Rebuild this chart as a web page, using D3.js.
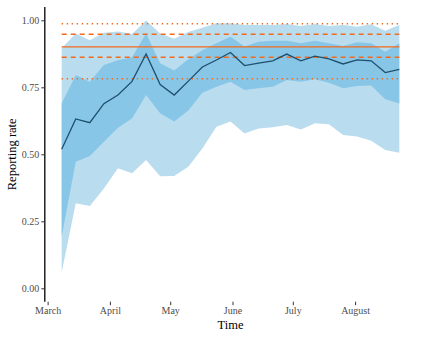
<!DOCTYPE html>
<html>
<head>
<meta charset="utf-8">
<script src="https://cdn.jsdelivr.net/npm/d3@7"></script>
<style>
  html, body { margin: 0; padding: 0; background: #fff; }
  svg { display: block; }
</style>
</head>
<body>
<div class="grafic"></div>
<script>
// weekly estimates of the reporting rate
const dates = ["2020-03-08","2020-03-15","2020-03-22","2020-03-29","2020-04-05","2020-04-12",
  "2020-04-19","2020-04-26","2020-05-03","2020-05-10","2020-05-17","2020-05-24","2020-05-31",
  "2020-06-07","2020-06-14","2020-06-21","2020-06-28","2020-07-05","2020-07-12","2020-07-19",
  "2020-07-26","2020-08-02","2020-08-09","2020-08-16","2020-08-23"];
const median = [0.519,0.632,0.618,0.689,0.721,0.772,0.874,0.760,0.721,0.773,0.826,0.852,0.880,
  0.831,0.840,0.849,0.874,0.849,0.866,0.856,0.837,0.852,0.849,0.805,0.817];
const innerLow = [0.193,0.472,0.494,0.547,0.599,0.634,0.721,0.653,0.622,0.663,0.730,0.752,0.771,
  0.740,0.746,0.752,0.777,0.771,0.780,0.767,0.746,0.755,0.757,0.705,0.690];
const innerHigh = [0.690,0.796,0.771,0.833,0.851,0.862,0.951,0.840,0.813,0.855,0.888,0.914,0.939,
  0.902,0.920,0.924,0.924,0.914,0.924,0.914,0.904,0.918,0.914,0.883,0.914];
const outerLow = [0.060,0.317,0.307,0.372,0.448,0.429,0.479,0.418,0.419,0.454,0.522,0.603,0.622,
  0.578,0.596,0.601,0.609,0.593,0.616,0.612,0.572,0.566,0.551,0.516,0.506];
const outerHigh = [0.896,0.951,0.926,0.954,0.958,0.949,0.999,0.951,0.931,0.956,0.972,0.989,0.989,
  0.982,0.982,0.982,0.986,0.979,0.986,0.979,0.982,0.976,0.985,0.961,0.982];

// reference levels (orange)
const refSolid = [0.901];
const refDashed = [0.862, 0.948];
const refDotted = [0.782, 0.987];

const monthTicks = ["2020-03-01","2020-04-01","2020-05-01","2020-06-01","2020-07-01","2020-08-01"];
const monthLabels = ["March","April","May","June","July","August"];
const yTicks = [0, 0.25, 0.5, 0.75, 1];

const w = 423, h = 338;
const pLeft = 44.8, pRight = 416.2, pTop = 6.9, pBottom = 301.7;
const serif = "'Liberation Serif', 'DejaVu Serif', serif";

const parse = d3.timeParse("%Y-%m-%d");
const rows = dates.map((d, i) => ({
  t: parse(d), m: median[i], il: innerLow[i], ih: innerHigh[i], ol: outerLow[i], oh: outerHigh[i]
}));

const ext = d3.extent(rows, d => d.t);
const pad = (ext[1] - ext[0]) * 0.05;
const xScale = d3.scaleTime()
  .domain([new Date(+ext[0] - pad), new Date(+ext[1] + pad)])
  .range([pLeft, pRight]);
const yScale = d3.scaleLinear()
  .domain([-0.05, 1.05])
  .range([pBottom, pTop]);

const svg = d3.select(".grafic").append("svg")
  .attr("width", w).attr("height", h)
  .style("font-family", serif);

// bands
const band = (lo, hi) => d3.area().x(d => xScale(d.t)).y0(d => yScale(d[lo])).y1(d => yScale(d[hi]));
svg.append("path").datum(rows).attr("fill", "#b9dcee").attr("d", band("ol", "oh"));
svg.append("path").datum(rows).attr("fill", "#88c6e8").attr("d", band("il", "ih"));

// reference lines over data range
const x0 = xScale(ext[0]), x1 = xScale(ext[1]);
const hline = (vals, dash) => {
  svg.append("g").selectAll("line").data(vals).enter().append("line")
    .attr("x1", x0).attr("x2", x1)
    .attr("y1", d => yScale(d)).attr("y2", d => yScale(d))
    .attr("stroke", "#f26b1d").attr("stroke-width", 1.4)
    .attr("stroke-dasharray", dash);
};
hline(refSolid, null);
hline(refDashed, "5,4");
hline(refDotted, "1.4,3.6");

// median
svg.append("path").datum(rows)
  .attr("fill", "none").attr("stroke", "#1e4f6c").attr("stroke-width", 1.3)
  .attr("d", d3.line().x(d => xScale(d.t)).y(d => yScale(d.m)));

// y axis
const yAxis = d3.axisLeft(yScale).tickValues(yTicks).tickFormat(d3.format(".2f")).tickSize(3.5).tickPadding(2);
const gy = svg.append("g").attr("transform", "translate(" + pLeft + ",0)").call(yAxis)
  .attr("font-family", serif).attr("font-size", 10);
gy.select(".domain").attr("d", "M0," + pTop + "V" + pBottom).attr("stroke", "#000").attr("stroke-width", 1.3);
gy.selectAll(".tick line").attr("stroke", "#333");
gy.selectAll(".tick text").attr("fill", "#4d4d4d");

// x axis
const xAxis = d3.axisBottom(xScale).tickValues(monthTicks.map(parse))
  .tickFormat((d, i) => monthLabels[i]).tickSize(3.5).tickPadding(2);
const gx = svg.append("g").attr("transform", "translate(0," + pBottom + ")").call(xAxis)
  .attr("font-family", serif).attr("font-size", 10);
gx.select(".domain").remove();
gx.selectAll(".tick line").attr("stroke", "#333");
gx.selectAll(".tick text").attr("fill", "#4d4d4d");

// titles
svg.append("text").attr("x", (pLeft + pRight) / 2).attr("y", 329)
  .attr("text-anchor", "middle").style("font-size", "12.5px").attr("fill", "#000").text("Time");
svg.append("text").attr("transform", "translate(16," + (pTop + pBottom) / 2 + ") rotate(-90)")
  .attr("text-anchor", "middle").style("font-size", "12.5px").attr("fill", "#000").text("Reporting rate");
</script>
</body>
</html>
